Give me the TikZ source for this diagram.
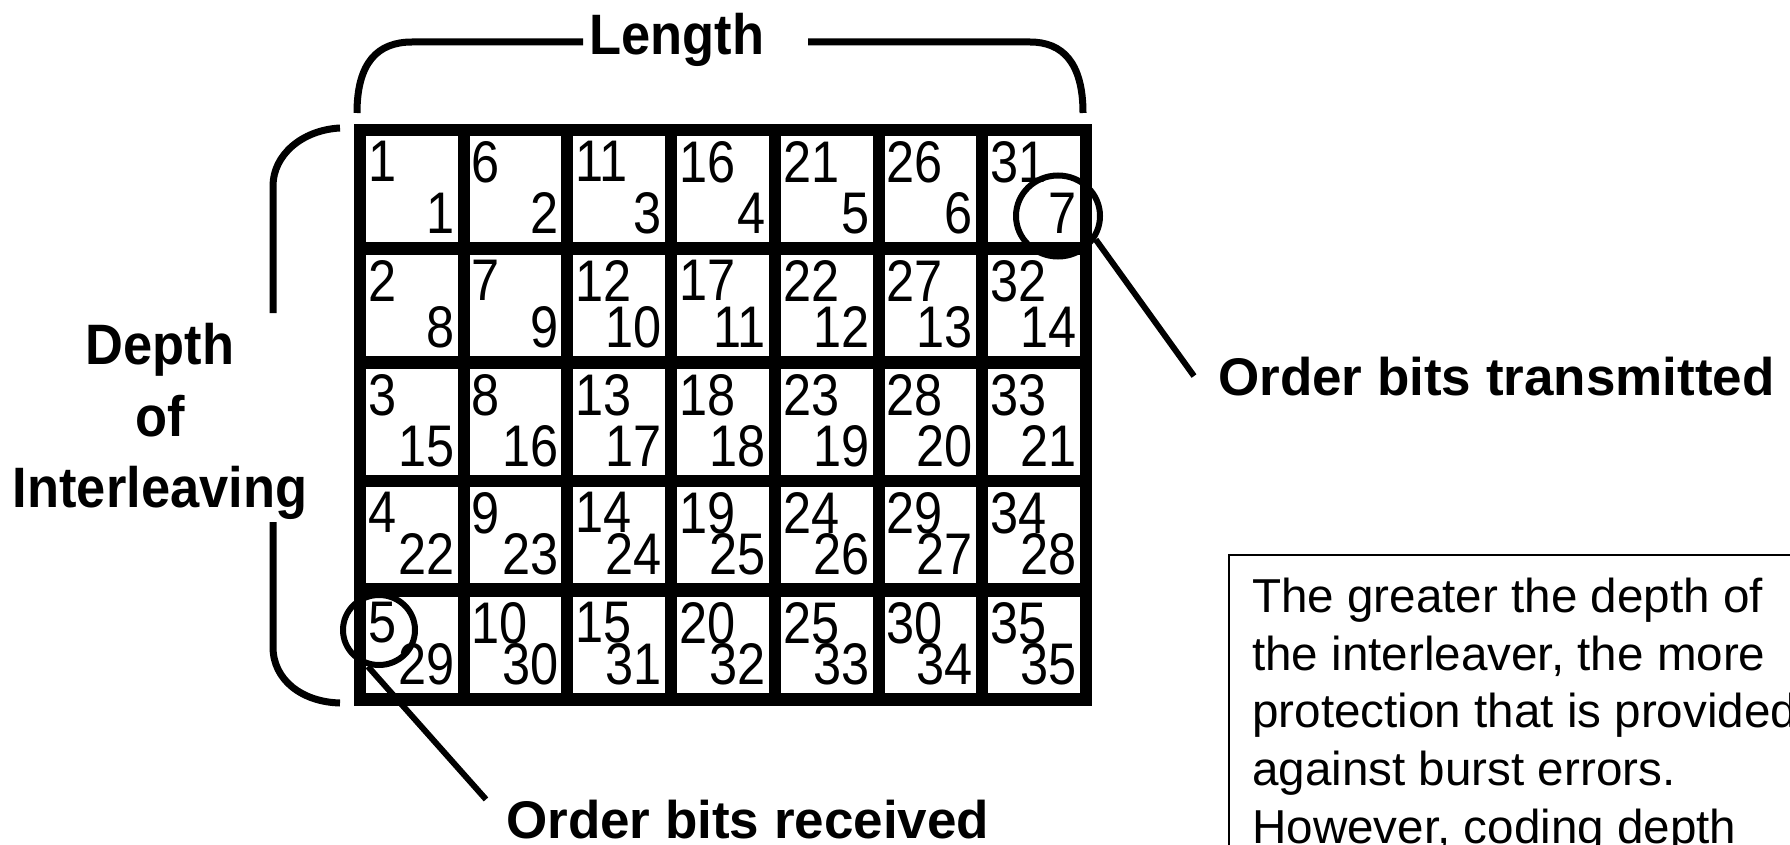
\documentclass[tikz,border=0pt]{standalone}
\usepackage{fontspec}
\setmainfont{Liberation Sans}
\newfontfamily\gridfont[FakeStretch=0.86]{Liberation Sans}
\newfontfamily\labelfont[FakeStretch=0.92]{Liberation Sans}
\usetikzlibrary{shapes.geometric}

\begin{document}
\begin{tikzpicture}[x=1pt, y=-1pt,
  brace/.style={line width=7pt},
  ring/.style={draw, ellipse, line width=6pt, inner sep=0pt},
  cellnum/.style={inner sep=0pt, font=\gridfont\fontsize{58.7}{60}\selectfont},
  biglabel/.style={inner sep=0pt, font=\labelfont\bfseries\fontsize{57}{71.5}\selectfont},
  taglabel/.style={inner sep=0pt, font=\bfseries\fontsize{53}{60}\selectfont},
  note/.style={inner sep=0pt, align=left, font=\fontsize{47.6}{57.6}\selectfont}]
  \useasboundingbox (0,0) rectangle (1790,845);
  \clip (0,0) rectangle (1790,845);
  \fill[white] (0,0) rectangle (1790,845);

  % interleaver grid
  \fill (354,124) rectangle (1092,706);
  \foreach \r/\rowtop/\rowbot in {1/136/242,2/255/356,3/369/475,4/487/583,5/597/693}
    \foreach \c in {0,...,6} {
      \pgfmathsetmacro{\lft}{366+103.7*\c}
      \pgfmathsetmacro{\rgt}{\lft+91.7}
      \pgfmathtruncatemacro{\down}{5*\c+\r}
      \pgfmathtruncatemacro{\across}{7*(\r-1)+\c+1}
      \fill[white] (\lft,\rowtop) rectangle (\rgt,\rowbot);
      \node[cellnum, anchor=north west] (in-\down) at (\lft+2,\rowtop+5) {\down};
      \node[cellnum, anchor=south east] (out-\across) at (\rgt-3,\rowbot-8) {\across};
    }

  % circled bits
  \node[ring, minimum width=84, minimum height=81] (ring7) at (1058,216) {};
  \node[ring, minimum width=72, minimum height=70] (ring5) at (379,630) {};

  % labels
  \node[biglabel, anchor=base] (lenlab) at (677,55) {Length};
  \node[biglabel, anchor=north, align=center] (deplab) at (160,323) {Depth\\of\\Interleaving};
  \node[taglabel, anchor=base west] (txlab) at (1218,395) {Order bits transmitted};
  \node[taglabel, anchor=base west] (rxlab) at (506,838) {Order bits received};

  % braces
  \draw[brace] (357,113) .. controls (357,62) and (378,42) .. (412,42) -- (583,42);
  \draw[brace] (808,42) -- (1030,42) .. controls (1062,42) and (1083,62) .. (1083,113);
  \draw[brace] (340,128) .. controls (302,130) and (273,155) .. (273,186) -- (273,313);
  \draw[brace] (273,522) -- (273,647) .. controls (273,680) and (302,702) .. (340,703);

  % pointers
  \draw[line width=6pt] (ring7.-32) -- ([xshift=-24pt]txlab.west);
  \draw[line width=6pt] (ring5.-107) -- ([xshift=-20pt]rxlab.north west);

  % note box
  \draw[line width=2pt] (1229,555) rectangle (1850,900);
  \node[note, anchor=north west] (notelab) at (1252,578) {The greater the depth of\\the interleaver, the more\\protection that is provided\\against burst errors.\\However, coding depth};
\end{tikzpicture}
\end{document}
